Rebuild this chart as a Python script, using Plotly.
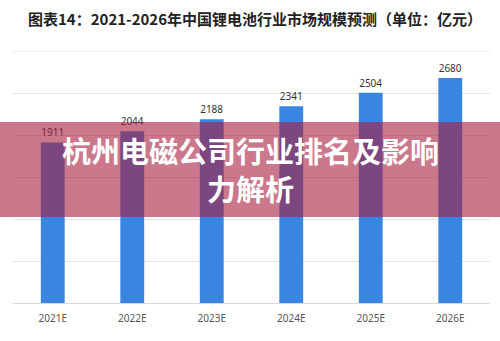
import plotly.graph_objects as go

categories = ["2021E", "2022E", "2023E", "2024E", "2025E", "2026E"]
values = [1911, 2044, 2188, 2341, 2504, 2680]
title_text = "图表14：2021-2026年中国锂电池行业市场规模预测（单位：亿元）"
banner_text = "杭州电磁公司行业排名及影响<br>力解析"

W, H = 500, 341
ml, mr, mt, mb = 13, 10, 51, 38
pw, ph = W - ml - mr, H - mt - mb

def px_x(x):
    return (x - ml) / pw

def px_y(y):
    return (H - mb - y) / ph

fig = go.Figure()
fig.add_trace(go.Bar(
    x=categories, y=values,
    marker=dict(color="#3a85e2", line=dict(width=0)),
    text=[str(v) for v in values],
    textposition="outside",
    textfont=dict(family="Noto Sans, Open Sans, sans-serif", size=10, color="#333333"),
    cliponaxis=False,
    width=0.3,
))

fig.update_layout(
    width=W, height=H,
    margin=dict(l=ml, r=mr, t=mt, b=mb, pad=0),
    paper_bgcolor="white", plot_bgcolor="white",
    showlegend=False,
    xaxis=dict(showgrid=False, showline=True, linecolor="#d9d9d9", linewidth=1,
               ticks="", ticklabelstandoff=6,
               tickfont=dict(family="Noto Sans, Open Sans, sans-serif", size=10, color="#555555"),
               zeroline=False),
    yaxis=dict(range=[0, 3000], dtick=500, showgrid=True, gridcolor="#e3e3e3", gridwidth=1,
               showticklabels=False, zeroline=False, showline=False),
    shapes=[
        dict(type="line", xref="paper", yref="y", x0=0, x1=1, y0=3000, y1=3000,
             line=dict(color="#dddddd", width=1), layer="below"),
        dict(type="rect", xref="paper", yref="paper",
             x0=px_x(0), x1=px_x(W), y0=px_y(217), y1=px_y(122),
             fillcolor="rgba(168,28,64,0.6)", line=dict(width=0), layer="above"),
    ],
    annotations=[
        dict(text=title_text, xref="paper", yref="paper", x=px_x(26), y=px_y(18),
             xanchor="left", yanchor="middle", showarrow=False,
             font=dict(family="Noto Sans CJK SC", size=15, color="#222222", weight="bold")),
        dict(text=banner_text, xref="paper", yref="paper", x=px_x(250), y=px_y(169),
             xanchor="center", yanchor="middle", showarrow=False, align="center",
             font=dict(family="Noto Sans CJK SC", size=29, color="white", weight="bold")),
    ],
)

fig.write_html("out.html")
